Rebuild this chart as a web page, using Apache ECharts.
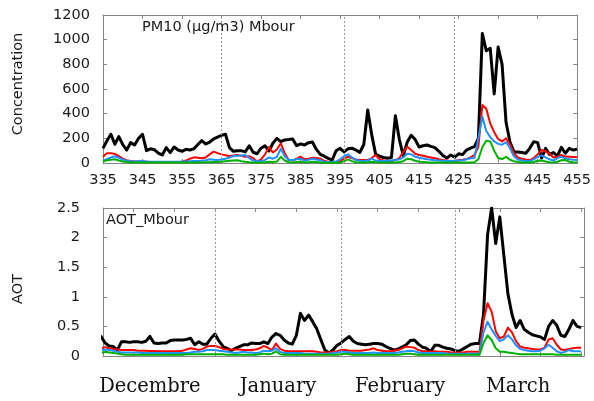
<!DOCTYPE html>
<html>
<head>
<meta charset="utf-8">
<script src="https://cdn.jsdelivr.net/npm/echarts@6/dist/echarts.min.js"></script>
<style>
  html, body { margin: 0; padding: 0; background: #fff; }
  #chart { width: 594px; height: 401px; }
</style>
</head>
<body>
<div id="chart"></div>
<script>
    // days 335 .. 455 (one value per day)
    var firstDay = 335;
    var lastDay = 455;

    // PM10 (µg/m3), Mbour
    var pmBlack = [
        119, 180, 233, 152, 214, 150, 105, 165, 146, 200,
        233, 100, 115, 108, 80, 65, 125, 84, 130, 105,
        95, 111, 105, 115, 150, 181, 154, 170, 195, 210,
        225, 233, 125, 95, 100, 100, 90, 140, 87, 75,
        120, 140, 97, 160, 200, 173, 187, 190, 195, 140,
        155, 146, 165, 170, 110, 70, 55, 38, 24, 100,
        119, 90, 115, 120, 105, 85, 150, 430, 230, 70,
        55, 45, 38, 45, 384, 190, 60, 170, 225, 190,
        130, 140, 146, 135, 125, 95, 60, 40, 65, 46,
        75, 68, 105, 120, 132, 200, 1050, 910, 930, 560,
        940, 800, 330, 170, 90, 90, 85, 79, 119, 173,
        165, 40, 119, 70, 85, 55, 127, 79, 119, 105,
        111
    ];
    var pmRed = [
        51, 80, 80, 73, 55, 35, 22, 16, 12, 12,
        10, 10, 8, 8, 8, 8, 8, 8, 8, 8,
        10, 20, 35, 46, 42, 38, 45, 70, 92, 80,
        70, 62, 57, 60, 65, 58, 51, 55, 40, 11,
        30, 70, 130, 85, 110, 160, 80, 24, 20, 35,
        51, 30, 35, 43, 40, 35, 16, 10, 8, 8,
        15, 35, 51, 40, 28, 24, 24, 24, 40, 65,
        30, 20, 16, 16, 24, 40, 90, 132, 105, 75,
        65, 58, 51, 45, 38, 30, 24, 20, 16, 18,
        22, 26, 32, 45, 65, 132, 470, 440, 320, 250,
        195, 175, 200, 150, 80, 45, 35, 28, 24, 40,
        70, 105, 95, 75, 45, 50, 65, 52, 50, 48,
        46
    ];
    var pmBlue = [
        19, 32, 45, 55, 42, 28, 19, 14, 12, 14,
        16, 12, 10, 10, 10, 10, 10, 10, 10, 10,
        12, 12, 14, 16, 16, 18, 22, 30, 26, 24,
        28, 34, 45, 57, 58, 60, 65, 40, 20, 14,
        16, 25, 45, 35, 50, 115, 55, 24, 25, 30,
        35, 18, 25, 35, 28, 22, 8, 8, 8, 12,
        30, 55, 70, 45, 25, 18, 16, 20, 35, 20,
        16, 16, 16, 20, 24, 30, 45, 75, 70, 51,
        42, 36, 30, 26, 22, 20, 18, 16, 16, 18,
        20, 22, 30, 38, 40, 200, 376, 260, 210, 175,
        155, 148, 170, 120, 55, 28, 20, 16, 16, 30,
        50, 62, 45, 30, 20, 40, 51, 38, 30, 26,
        24
    ];
    var pmGreen = [
        12, 22, 26, 30, 20, 12, 8, 5, 5, 5,
        5, 4, 4, 4, 4, 4, 4, 4, 4, 4,
        4, 4, 4, 5, 5, 5, 6, 6, 8, 8,
        10, 14, 18, 20, 22, 15, 10, 6, 4, 3,
        4, 6, 10, 8, 12, 50, 20, 6, 5, 8,
        10, 5, 6, 10, 8, 5, 3, 3, 3, 3,
        3, 15, 30, 15, 6, 4, 4, 6, 10, 6,
        4, 4, 4, 4, 4, 8, 15, 35, 30, 18,
        10, 8, 6, 5, 4, 4, 4, 4, 4, 4,
        4, 4, 4, 4, 6, 30, 130, 180, 175, 100,
        40, 32, 50, 26, 15, 8, 5, 5, 5, 8,
        18, 20, 12, 6, 4, 10, 22, 25, 10, 6,
        5
    ];

    // AOT, Mbour
    var aotBlack = [
        0.30, 0.32, 0.33, 0.22, 0.17, 0.16, 0.10, 0.24, 0.24, 0.23,
        0.24, 0.24, 0.23, 0.25, 0.33, 0.22, 0.21, 0.22, 0.22, 0.26,
        0.27, 0.27, 0.27, 0.28, 0.30, 0.19, 0.24, 0.20, 0.20, 0.30,
        0.37, 0.25, 0.16, 0.13, 0.09, 0.13, 0.16, 0.19, 0.19, 0.22,
        0.21, 0.21, 0.24, 0.21, 0.32, 0.38, 0.35, 0.27, 0.22, 0.20,
        0.35, 0.72, 0.60, 0.69, 0.58, 0.46, 0.28, 0.10, 0.05, 0.10,
        0.18, 0.22, 0.28, 0.33, 0.25, 0.21, 0.20, 0.19, 0.20, 0.21,
        0.21, 0.20, 0.16, 0.13, 0.10, 0.12, 0.15, 0.19, 0.26, 0.27,
        0.20, 0.15, 0.13, 0.07, 0.18, 0.18, 0.15, 0.13, 0.12, 0.09,
        0.08, 0.12, 0.16, 0.20, 0.21, 0.21, 0.70, 2.05, 2.50, 1.90,
        2.35, 1.70, 1.05, 0.70, 0.48, 0.60, 0.45, 0.40, 0.36, 0.34,
        0.32, 0.28, 0.50, 0.60, 0.52, 0.35, 0.33, 0.45, 0.60, 0.50,
        0.48
    ];
    var aotRed = [
        0.12, 0.13, 0.13, 0.15, 0.13, 0.12, 0.11, 0.10, 0.10, 0.10,
        0.10, 0.09, 0.09, 0.09, 0.085, 0.085, 0.08, 0.08, 0.08, 0.08,
        0.08, 0.08, 0.09, 0.11, 0.13, 0.12, 0.10, 0.12, 0.16, 0.17,
        0.17, 0.15, 0.12, 0.11, 0.11, 0.11, 0.11, 0.10, 0.10, 0.10,
        0.11, 0.13, 0.17, 0.14, 0.10, 0.21, 0.12, 0.09, 0.08, 0.08,
        0.08, 0.08, 0.08, 0.08, 0.08, 0.07, 0.06, 0.06, 0.06, 0.07,
        0.08, 0.10, 0.10, 0.09, 0.09, 0.09, 0.09, 0.10, 0.11, 0.13,
        0.10, 0.09, 0.08, 0.08, 0.09, 0.10, 0.13, 0.16, 0.15, 0.14,
        0.10, 0.08, 0.08, 0.07, 0.08, 0.07, 0.07, 0.07, 0.06, 0.06,
        0.06, 0.06, 0.07, 0.07, 0.07, 0.07, 0.60, 0.89, 0.75, 0.42,
        0.30, 0.33, 0.48, 0.40, 0.25, 0.16, 0.14, 0.13, 0.12, 0.11,
        0.11, 0.14, 0.28, 0.30, 0.19, 0.11, 0.10, 0.12, 0.13, 0.14,
        0.14
    ];
    var aotBlue = [
        0.08, 0.09, 0.10, 0.11, 0.10, 0.09, 0.07, 0.06, 0.06, 0.06,
        0.06, 0.06, 0.05, 0.05, 0.05, 0.05, 0.05, 0.05, 0.05, 0.05,
        0.05, 0.05, 0.05, 0.05, 0.06, 0.07, 0.07, 0.08, 0.10, 0.10,
        0.10, 0.09, 0.08, 0.07, 0.06, 0.05, 0.06, 0.07, 0.06, 0.06,
        0.05, 0.06, 0.09, 0.08, 0.09, 0.13, 0.07, 0.05, 0.05, 0.05,
        0.05, 0.05, 0.04, 0.04, 0.04, 0.04, 0.04, 0.04, 0.04, 0.05,
        0.06, 0.07, 0.07, 0.06, 0.05, 0.05, 0.05, 0.05, 0.05, 0.06,
        0.05, 0.05, 0.05, 0.05, 0.05, 0.06, 0.07, 0.08, 0.09, 0.08,
        0.06, 0.05, 0.05, 0.05, 0.05, 0.05, 0.05, 0.04, 0.04, 0.04,
        0.04, 0.04, 0.04, 0.04, 0.04, 0.04, 0.40, 0.58, 0.45, 0.34,
        0.25, 0.28, 0.35, 0.28, 0.18, 0.12, 0.10, 0.09, 0.08, 0.08,
        0.09, 0.13, 0.19, 0.14, 0.08, 0.05, 0.07, 0.10, 0.08, 0.08,
        0.08
    ];
    var aotGreen = [
        0.04, 0.05, 0.05, 0.07, 0.06, 0.05, 0.04, 0.03, 0.02, 0.02,
        0.02, 0.02, 0.02, 0.02, 0.02, 0.02, 0.02, 0.02, 0.02, 0.02,
        0.02, 0.02, 0.02, 0.03, 0.03, 0.03, 0.03, 0.03, 0.03, 0.03,
        0.03, 0.03, 0.03, 0.02, 0.02, 0.02, 0.02, 0.02, 0.02, 0.02,
        0.02, 0.03, 0.04, 0.03, 0.04, 0.08, 0.03, 0.02, 0.02, 0.02,
        0.02, 0.02, 0.02, 0.02, 0.02, 0.02, 0.02, 0.02, 0.02, 0.02,
        0.02, 0.03, 0.04, 0.03, 0.02, 0.02, 0.02, 0.02, 0.02, 0.02,
        0.02, 0.02, 0.02, 0.02, 0.02, 0.02, 0.03, 0.04, 0.04, 0.03,
        0.02, 0.02, 0.02, 0.02, 0.02, 0.02, 0.02, 0.02, 0.02, 0.02,
        0.02, 0.02, 0.02, 0.02, 0.02, 0.02, 0.22, 0.35, 0.27, 0.13,
        0.07, 0.07, 0.06, 0.05, 0.04, 0.03, 0.03, 0.03, 0.03, 0.03,
        0.03, 0.03, 0.03, 0.03, 0.02, 0.02, 0.02, 0.02, 0.02, 0.02,
        0.02
    ];

    // month boundaries (dotted lines) and month names under the lower panel
    var monthStarts = [365, 396, 424];
    var monthNames = ['Decembre', 'January', 'February', 'March'];
    var monthCenters = [349, 380.5, 410.5, 439.5];
    // lower panel tick positions
    var aotTicks = [345, 355, 365, 375, 385, 395, 405, 415, 425, 435, 445, 455];

    var days = [];
    for (var d = firstDay; d <= lastDay; d++) {
        days.push(d);
    }
    function pairs(values) {
        return values.map(function (v, i) { return [days[i], v]; });
    }

    var font = 'DejaVu Sans';
    var textColor = '#1a1a1a';
    var frameColor = '#858585';
    var colors = { black: '#000000', red: '#ff0000', blue: '#1e90ff', green: '#00b000' };

    function tick(custom) {
        var t = { show: true, inside: true, length: 4, lineStyle: { color: frameColor, width: 1 } };
        if (custom) t.customValues = custom;
        return t;
    }
    var frameLine = { show: true, onZero: false, lineStyle: { color: frameColor, width: 1 } };

    var guideLines = {
        silent: true,
        symbol: ['none', 'none'],
        label: { show: false },
        lineStyle: { color: '#9a9a9a', type: [2, 2], width: 1 },
        data: monthStarts.map(function (m) { return { xAxis: m }; })
    };

    function line(name, values, color, width, xi, yi, z, withGuides) {
        var s = {
            name: name,
            type: 'line',
            xAxisIndex: xi,
            yAxisIndex: yi,
            data: pairs(values),
            showSymbol: false,
            symbol: 'none',
            z: z,
            lineStyle: { color: color, width: width, join: 'round' }
        };
        if (withGuides) s.markLine = guideLines;
        return s;
    }

    function plain(v) { return String(v); }

    var chart = echarts.init(document.getElementById('chart'), null, { renderer: 'canvas' });
    chart.setOption({
        animation: false,
        backgroundColor: '#ffffff',
        grid: [
            { left: 103, top: 15, width: 481, height: 148 },
            { left: 103, top: 208, width: 481, height: 148 }
        ],
        xAxis: [
            {
                gridIndex: 0, type: 'value', position: 'bottom', min: 335, max: 455, interval: 10,
                axisLine: frameLine, splitLine: { show: false }, axisTick: tick(),
                axisLabel: { fontFamily: font, fontSize: 14.5, color: textColor, margin: 10, formatter: plain }
            },
            {
                gridIndex: 0, type: 'value', position: 'top', min: 335, max: 455, interval: 10,
                axisLine: frameLine, splitLine: { show: false }, axisTick: tick(),
                axisLabel: { show: false }
            },
            {
                gridIndex: 1, type: 'value', position: 'bottom', min: 337.47, max: 455.7,
                axisLine: frameLine, splitLine: { show: false }, axisTick: tick(aotTicks),
                axisLabel: {
                    customValues: monthCenters,
                    fontFamily: 'DejaVu Serif', fontSize: 19.5, color: '#111', margin: 21,
                    formatter: function (v) {
                        var i = monthCenters.indexOf(v);
                        return i >= 0 ? monthNames[i] : '';
                    }
                }
            },
            {
                gridIndex: 1, type: 'value', position: 'top', min: 337.47, max: 455.7,
                axisLine: frameLine, splitLine: { show: false }, axisTick: tick(aotTicks),
                axisLabel: { show: false }
            }
        ],
        yAxis: [
            {
                gridIndex: 0, type: 'value', position: 'left', min: 0, max: 1200, interval: 200,
                axisLine: frameLine, splitLine: { show: false }, axisTick: tick(),
                axisLabel: { fontFamily: font, fontSize: 14.5, color: textColor, margin: 13, formatter: plain }
            },
            {
                gridIndex: 0, type: 'value', position: 'right', min: 0, max: 1200, interval: 200,
                axisLine: frameLine, splitLine: { show: false }, axisTick: tick(),
                axisLabel: { show: false }
            },
            {
                gridIndex: 1, type: 'value', position: 'left', min: 0, max: 2.5, interval: 0.5,
                axisLine: frameLine, splitLine: { show: false }, axisTick: tick(),
                axisLabel: { fontFamily: font, fontSize: 14.5, color: textColor, margin: 23, formatter: plain }
            },
            {
                gridIndex: 1, type: 'value', position: 'right', min: 0, max: 2.5, interval: 0.5,
                axisLine: frameLine, splitLine: { show: false }, axisTick: tick(),
                axisLabel: { show: false }
            }
        ],
        graphic: [
            { type: 'text', x: 18, y: 84, rotation: Math.PI / 2,
              style: { text: 'Concentration', font: '14.5px "DejaVu Sans"', fill: textColor, align: 'center', verticalAlign: 'middle' } },
            { type: 'text', x: 18, y: 289, rotation: Math.PI / 2,
              style: { text: 'AOT', font: '14.5px "DejaVu Sans"', fill: textColor, align: 'center', verticalAlign: 'middle' } },
            { type: 'text', x: 142, y: 27, z: 10,
              style: { text: 'PM10 (µg/m3) Mbour', font: '14.5px "DejaVu Sans"', fill: textColor, align: 'left', verticalAlign: 'middle' } },
            { type: 'text', x: 106, y: 220, z: 10,
              style: { text: 'AOT_Mbour', font: '14.5px "DejaVu Sans"', fill: textColor, align: 'left', verticalAlign: 'middle' } }
        ],
        series: [
            line('PM10', pmBlack, colors.black, 3, 0, 0, 2, true),
            line('PM10 red', pmRed, colors.red, 2, 0, 0, 3),
            line('PM10 blue', pmBlue, colors.blue, 2, 0, 0, 4),
            line('PM10 green', pmGreen, colors.green, 2, 0, 0, 5),
            line('AOT', aotBlack, colors.black, 3, 2, 2, 2, true),
            line('AOT red', aotRed, colors.red, 2, 2, 2, 3),
            line('AOT blue', aotBlue, colors.blue, 2, 2, 2, 4),
            line('AOT green', aotGreen, colors.green, 2, 2, 2, 5)
        ]
    });
</script>
</body>
</html>
